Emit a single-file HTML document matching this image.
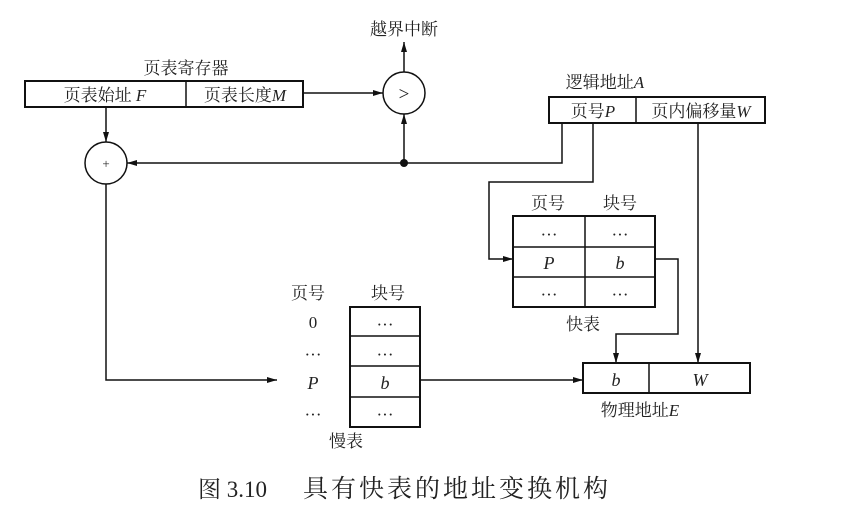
<!DOCTYPE html>
<html><head><meta charset="utf-8"><style>
body{margin:0;background:#fff;}
svg text{font-family:"Liberation Serif","Noto Serif CJK SC",serif;fill:#222;}
</style></head><body>
<svg width="865" height="508" viewBox="0 0 865 508" xmlns="http://www.w3.org/2000/svg">
<defs><marker id="a" markerWidth="10" markerHeight="6" refX="10" refY="3" orient="auto" markerUnits="userSpaceOnUse"><path d="M0,0 L10,3 L0,6 z" fill="#111"/></marker></defs>
<g stroke="#111" stroke-width="1.5" fill="none">
<rect x="25" y="81" width="278" height="26" stroke-width="2"/>
<line x1="186" y1="81" x2="186" y2="107"/>
<circle cx="404" cy="93" r="21"/>
<line x1="303" y1="93" x2="383" y2="93" marker-end="url(#a)"/>
<line x1="404" y1="72" x2="404" y2="42" marker-end="url(#a)"/>
<line x1="404" y1="163" x2="404" y2="114" marker-end="url(#a)"/>
<circle cx="106" cy="163" r="21"/>
<line x1="106" y1="107" x2="106" y2="142" marker-end="url(#a)"/>
<polyline points="562,123 562,163 127,163" marker-end="url(#a)"/>
<polyline points="106,184 106,380 277,380" marker-end="url(#a)"/>
<rect x="549" y="97" width="216" height="26" stroke-width="2"/>
<line x1="636" y1="97" x2="636" y2="123"/>
<polyline points="593,123 593,182 489,182 489,259 513,259" marker-end="url(#a)"/>
<line x1="698" y1="123" x2="698" y2="363" marker-end="url(#a)"/>
<rect x="513" y="216" width="142" height="91" stroke-width="2"/>
<line x1="585" y1="216" x2="585" y2="307"/>
<line x1="513" y1="247" x2="655" y2="247"/>
<line x1="513" y1="277" x2="655" y2="277"/>
<polyline points="655,259 678,259 678,334 616,334 616,363" marker-end="url(#a)"/>
<rect x="583" y="363" width="167" height="30" stroke-width="2"/>
<line x1="649" y1="363" x2="649" y2="393"/>
<rect x="350" y="307" width="70" height="120" stroke-width="2"/>
<line x1="350" y1="336" x2="420" y2="336"/>
<line x1="350" y1="366" x2="420" y2="366"/>
<line x1="350" y1="397" x2="420" y2="397"/>
<line x1="420" y1="380" x2="583" y2="380" marker-end="url(#a)"/>
</g>
<circle cx="404" cy="163" r="4" fill="#111"/>
<g font-size="17" text-anchor="middle">
<text x="404" y="35">越界中断</text>
<text x="186" y="74">页表寄存器</text>
<text x="105" y="101">页表始址 <tspan font-style="italic">F</tspan></text>
<text x="245" y="101">页表长度<tspan font-style="italic">M</tspan></text>
<text x="404" y="100" font-size="19">&gt;</text>
<text x="106" y="168" font-size="13">+</text>
<text x="605" y="88">逻辑地址<tspan font-style="italic">A</tspan></text>
<text x="593" y="117">页号<tspan font-style="italic">P</tspan></text>
<text x="701" y="117">页内偏移量<tspan font-style="italic">W</tspan></text>
<text x="548" y="209">页号</text>
<text x="620" y="209">块号</text>
<text x="549" y="240">···</text>
<text x="620" y="240">···</text>
<text x="549" y="269" font-style="italic" font-size="18">P</text>
<text x="620" y="269" font-style="italic" font-size="18">b</text>
<text x="549" y="300">···</text>
<text x="620" y="300">···</text>
<text x="583" y="330">快表</text>
<text x="616" y="386" font-style="italic" font-size="18">b</text>
<text x="700" y="386" font-style="italic" font-size="18">W</text>
<text x="640" y="416">物理地址<tspan font-style="italic">E</tspan></text>
<text x="308" y="299">页号</text>
<text x="388" y="299">块号</text>
<text x="313" y="328">0</text>
<text x="313" y="360">···</text>
<text x="313" y="389" font-style="italic" font-size="18">P</text>
<text x="313" y="420">···</text>
<text x="385" y="330">···</text>
<text x="385" y="360">···</text>
<text x="385" y="389" font-style="italic" font-size="18">b</text>
<text x="385" y="420">···</text>
<text x="346" y="447">慢表</text>
</g>
<text x="198" y="497" font-size="23">图 3.10</text>
<text x="303" y="497" font-size="25" letter-spacing="3">具有快表的地址变换机构</text>
</svg>
</body></html>
